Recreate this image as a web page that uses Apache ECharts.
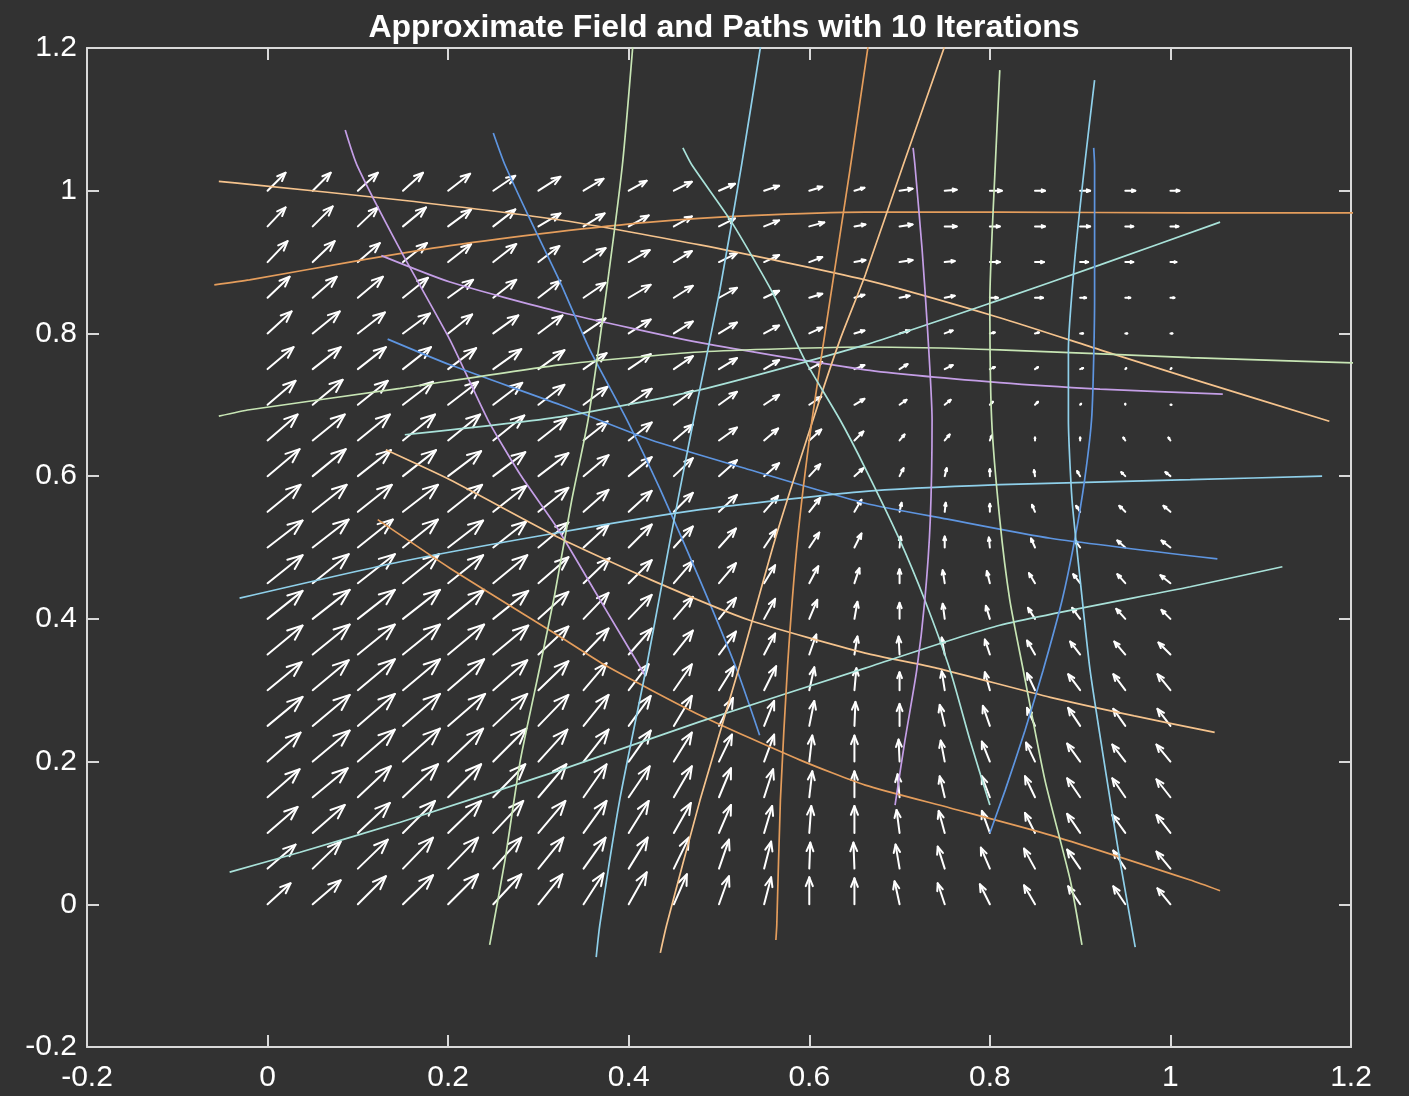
<!DOCTYPE html>
<html>
<head>
<meta charset="utf-8">
<title>Approximate Field and Paths</title>
<script src="https://cdn.jsdelivr.net/npm/echarts@6/dist/echarts.min.js"></script>
<style>
html, body { margin: 0; padding: 0; background: #323232; }
#chart { width: 1409px; height: 1096px; }
</style>
</head>
<body>
<div id="chart"></div>
<script>
// quiver grid
var gridX = [0, 0.05, 0.1, 0.15, 0.2, 0.25, 0.3, 0.35, 0.4, 0.45, 0.5, 0.55, 0.6, 0.65, 0.7, 0.75, 0.8, 0.85, 0.9, 0.95, 1];
var gridY = [0, 0.05, 0.1, 0.15, 0.2, 0.25, 0.3, 0.35, 0.4, 0.45, 0.5, 0.55, 0.6, 0.65, 0.7, 0.75, 0.8, 0.85, 0.9, 0.95, 1];

// field components, one row per gridY value (bottom row first)
var fieldU = [
  [23,28,28,30,30,28,24,20,18,13,10,7,0,0,-5,-7,-10,-11,-12,-12,-13],
  [28,28,30,30,30,28,25,22,19,15,10,7,1,-1,-4,-7,-9,-11,-13,-12,-14],
  [30,32,32,32,33,30,27,23,20,17,12,8,2,0,-3,-6,-8,-10,-13,-13,-14],
  [32,35,33,35,33,32,28,23,21,18,12,9,3,0,-2,-5,-8,-10,-13,-13,-14],
  [33,37,37,37,35,33,29,25,22,18,13,10,3,0,-1,-4,-8,-9,-13,-13,-14],
  [35,37,37,37,37,34,30,25,22,18,14,10,5,1,0,-5,-7,-8,-12,-12,-13],
  [34,36,37,37,36,34,30,23,20,18,15,12,5,2,0,-3,-5,-8,-12,-12,-13],
  [35,37,37,37,36,35,30,25,23,19,17,11,7,3,-1,-3,-5,-8,-10,-11,-12],
  [35,37,37,37,36,35,30,25,23,19,17,11,8,3,0,-2,-4,-7,-8,-9,-9],
  [35,36,37,36,35,34,30,26,23,19,17,11,9,5,0,-2,-3,-6,-7,-8,-10],
  [35,36,35,35,35,33,30,25,23,19,17,12,10,7,1,0,-1,-4,-5,-8,-9],
  [33,34,34,35,34,33,30,25,23,19,18,14,11,7,2,1,0,-3,-4,-6,-7],
  [32,33,33,33,33,32,30,25,23,19,18,15,11,9,4,2,0,-1,-3,-4,-5],
  [30,32,32,32,32,31,28,24,23,19,18,14,12,9,5,5,2,0,0,-2,-2],
  [28,30,30,30,30,29,26,24,23,19,18,15,12,10,7,6,3,3,1,0,1],
  [26,28,28,28,28,28,26,23,22,19,18,15,13,10,8,8,5,3,3,1,1],
  [24,27,27,27,24,25,24,22,22,19,18,15,13,10,10,8,5,4,3,2,2],
  [22,24,25,25,25,23,22,22,22,19,18,15,13,10,10,10,8,8,6,5,4],
  [20,22,22,24,23,23,21,22,21,18,18,15,13,11,13,10,10,9,8,8,6],
  [18,20,20,23,23,22,22,21,20,18,16,15,15,11,13,12,10,10,10,8,8],
  [18,18,20,20,22,22,22,20,18,18,16,15,13,10,13,12,12,10,10,10,9]
];
var fieldV = [
  [21,24,28,29,30,30,30,31,32,30,28,27,27,26,23,21,20,19,18,18,16],
  [24,27,29,31,31,31,31,31,31,31,29,27,26,26,24,22,21,20,19,18,17],
  [26,28,30,32,32,32,32,32,32,30,28,27,27,27,23,22,22,20,19,18,18],
  [28,29,31,33,33,33,33,33,31,31,29,28,26,26,23,21,21,21,19,19,18],
  [29,31,32,33,33,33,32,32,31,29,27,27,26,26,22,21,20,19,18,17,17],
  [29,31,32,32,32,32,31,31,30,30,28,25,25,24,22,21,20,18,18,17,17],
  [28,30,31,31,31,30,29,27,26,26,24,24,23,22,18,19,18,17,16,16,16],
  [29,30,30,30,30,29,28,26,26,24,23,21,20,18,18,17,15,14,13,13,12],
  [28,29,29,29,29,28,27,26,24,22,21,20,19,17,16,15,13,11,11,10,9],
  [28,29,29,29,28,28,26,25,23,22,20,18,17,15,14,13,12,10,9,9,8],
  [27,28,28,28,27,26,25,23,23,21,19,18,15,14,11,11,10,9,7,7,7],
  [27,27,27,27,27,26,24,22,21,19,17,16,14,12,9,9,8,7,6,6,6],
  [27,27,26,26,25,24,23,21,19,18,16,13,12,8,8,8,7,6,5,4,4],
  [26,26,26,26,26,25,22,19,18,16,13,12,11,9,6,6,5,3,3,3,3],
  [24,25,24,23,23,22,20,18,16,14,13,10,8,6,5,5,3,3,1,1,0],
  [22,22,22,22,21,20,19,16,15,13,11,9,7,4,5,4,2,2,1,1,1],
  [22,22,21,20,19,18,18,15,14,12,11,8,6,3,3,3,1,1,0,0,0],
  [21,21,21,20,18,18,17,15,13,12,10,7,4,3,2,2,0,0,0,0,0],
  [21,21,19,19,18,18,16,14,12,11,9,7,5,2,2,1,0,0,0,0,0],
  [19,20,19,19,17,17,13,13,11,10,8,6,4,2,2,0,0,0,0,0,0],
  [18,18,18,18,17,15,14,12,10,9,7,5,4,3,2,1,0,0,0,0,0]
];

// paths
var pathA = [[-0.054,1.013],[-0.020,1.009],[0.147,0.987],[0.324,0.959],[0.479,0.924],[0.662,0.875],[0.811,0.822],[0.922,0.777],[1.022,0.737],[1.176,0.677]];
var pathB = [[-0.059,0.868],[-0.020,0.875],[0.091,0.900],[0.202,0.923],[0.318,0.942],[0.424,0.956],[0.534,0.965],[0.662,0.970],[0.811,0.970],[1.022,0.969],[1.25,0.969]];
var pathC = [[0.086,1.085],[0.099,1.036],[0.147,0.917],[0.202,0.791],[0.244,0.679],[0.280,0.602],[0.321,0.527],[0.368,0.427],[0.418,0.321]];
var pathD = [[0.126,0.909],[0.202,0.872],[0.324,0.830],[0.479,0.787],[0.662,0.749],[0.811,0.731],[0.922,0.722],[1.058,0.715]];
var pathE = [[0.250,1.081],[0.263,1.036],[0.291,0.959],[0.324,0.872],[0.357,0.777],[0.398,0.679],[0.435,0.581],[0.479,0.454],[0.520,0.328],[0.545,0.237]];
var pathF = [[0.133,0.792],[0.202,0.756],[0.324,0.700],[0.424,0.651],[0.534,0.609],[0.662,0.562],[0.756,0.539],[0.867,0.513],[1.052,0.484]];
var pathG = [[-0.054,0.684],[-0.020,0.693],[0.147,0.723],[0.324,0.756],[0.479,0.774],[0.662,0.781],[0.811,0.777],[1.022,0.766],[1.25,0.757]];
var pathH = [[0.152,0.658],[0.324,0.683],[0.479,0.721],[0.662,0.784],[0.811,0.847],[0.922,0.896],[1.055,0.956]];
var pathI = [[-0.031,0.429],[0.147,0.480],[0.318,0.520],[0.479,0.553],[0.656,0.578],[0.811,0.588],[1.022,0.595],[1.168,0.600]];
var pathJ = [[0.131,0.637],[0.202,0.595],[0.324,0.513],[0.424,0.455],[0.534,0.398],[0.662,0.352],[0.741,0.331],[0.867,0.290],[0.960,0.264],[1.049,0.241]];
var pathK = [[0.122,0.539],[0.202,0.471],[0.324,0.375],[0.374,0.335],[0.479,0.265],[0.590,0.202],[0.662,0.167],[0.756,0.135],[0.867,0.097],[1.022,0.034],[1.055,0.019]];
var pathL = [[-0.042,0.045],[0.036,0.073],[0.147,0.115],[0.324,0.188],[0.479,0.256],[0.662,0.331],[0.811,0.391],[1.022,0.445],[1.124,0.473]];
var pathM = [[0.246,-0.057],[0.263,0.062],[0.280,0.202],[0.302,0.335],[0.318,0.434],[0.337,0.567],[0.355,0.679],[0.374,0.847],[0.393,1.036],[0.405,1.21]];
var pathN = [[0.364,-0.074],[0.368,-0.029],[0.390,0.146],[0.420,0.335],[0.446,0.511],[0.473,0.686],[0.501,0.861],[0.525,1.036],[0.547,1.21]];
var pathO = [[0.435,-0.068],[0.442,-0.029],[0.479,0.146],[0.523,0.335],[0.562,0.511],[0.606,0.686],[0.634,0.791],[0.662,0.882],[0.704,1.036],[0.752,1.21]];
var pathP = [[0.563,-0.050],[0.564,-0.029],[0.568,0.146],[0.576,0.335],[0.587,0.511],[0.603,0.679],[0.623,0.847],[0.645,1.029],[0.666,1.21]];
var pathQ = [[0.460,1.060],[0.470,1.036],[0.514,0.956],[0.559,0.858],[0.595,0.763],[0.634,0.679],[0.662,0.611],[0.700,0.511],[0.728,0.426],[0.756,0.328],[0.778,0.230],[0.800,0.139]];
var pathR = [[0.715,1.060],[0.717,1.036],[0.725,0.917],[0.731,0.805],[0.736,0.679],[0.734,0.539],[0.728,0.427],[0.719,0.328],[0.706,0.230],[0.695,0.139]];
var pathS = [[0.811,1.169],[0.806,1.036],[0.800,0.847],[0.802,0.679],[0.811,0.539],[0.822,0.427],[0.837,0.328],[0.861,0.174],[0.889,0.034],[0.902,-0.057]];
var pathT = [[0.915,1.060],[0.916,1.036],[0.916,0.847],[0.913,0.686],[0.905,0.595],[0.894,0.511],[0.880,0.426],[0.859,0.328],[0.839,0.244],[0.817,0.160],[0.800,0.100]];
var pathU = [[0.916,1.155],[0.905,1.036],[0.894,0.903],[0.887,0.777],[0.887,0.679],[0.891,0.567],[0.900,0.455],[0.911,0.328],[0.928,0.188],[0.944,0.062],[0.961,-0.060]];

var paths = [pathA, pathB, pathC, pathD, pathE, pathF, pathG, pathH, pathI, pathJ, pathK, pathL, pathM, pathN, pathO, pathP, pathQ, pathR, pathS, pathT, pathU];
var pathColors = ['#f5c38d', '#e49d5c', '#c49ee6', '#c49ee6', '#5e95e0', '#5e95e0', '#c7e5b4', '#a9e2d9', '#8fd0ea',
                  '#f5c38d', '#e49d5c', '#a9e2d9', '#c7e5b4', '#8fd0ea', '#f5c38d', '#e49d5c', '#a9e2d9', '#c49ee6',
                  '#c7e5b4', '#5e95e0', '#8fd0ea'];

var arrowScaleX = 1.4 / 1264;
var arrowScaleY = 1.4 / 999;

var quiverData = [];
for (var j = 0; j < gridY.length; j++) {
  for (var i = 0; i < gridX.length; i++) {
    quiverData.push([gridX[i], gridY[j], fieldU[j][i], fieldV[j][i]]);
  }
}

var axisColor = '#d9d9d9';
var labelFont = 'Liberation Sans, Helvetica, Arial, sans-serif';

function makeX(pos, showLabel) {
  return {
    type: 'value', position: pos, min: -0.2, max: 1.2, interval: 0.2,
    axisLine: { show: true, onZero: false, lineStyle: { color: axisColor, width: 2 } },
    axisTick: { show: true, inside: true, length: 12, lineStyle: { color: axisColor, width: 2 } },
    axisLabel: { show: showLabel, color: '#ffffff', fontSize: 30, margin: 16, fontFamily: labelFont },
    splitLine: { show: false }
  };
}
function makeY(pos, showLabel) {
  return {
    type: 'value', position: pos, min: -0.2, max: 1.2, interval: 0.2,
    axisLine: { show: true, onZero: false, lineStyle: { color: axisColor, width: 2 } },
    axisTick: { show: true, inside: true, length: 12, lineStyle: { color: axisColor, width: 2 } },
    axisLabel: { show: showLabel, color: '#ffffff', fontSize: 30, margin: 10, fontFamily: labelFont },
    splitLine: { show: false }
  };
}

var series = [{
  type: 'custom',
  z: 2,
  silent: true,
  data: quiverData,
  renderItem: function (params, api) {
    var x = api.value(0), y = api.value(1), u = api.value(2), v = api.value(3);
    var p0 = api.coord([x, y]);
    var p1 = api.coord([x + u * arrowScaleX, y + v * arrowScaleY]);
    var dx = p1[0] - p0[0], dy = p1[1] - p0[1];
    var alpha = 0.33, beta = 0.4;
    var h1 = [p1[0] - alpha * (dx + beta * dy), p1[1] - alpha * (dy - beta * dx)];
    var h2 = [p1[0] - alpha * (dx - beta * dy), p1[1] - alpha * (dy + beta * dx)];
    var st = { stroke: '#ffffff', lineWidth: 2, fill: null, lineCap: 'round', lineJoin: 'round' };
    return {
      type: 'group',
      children: [
        { type: 'polyline', shape: { points: [p0, p1] }, style: st },
        { type: 'polyline', shape: { points: [h1, p1, h2] }, style: st }
      ]
    };
  }
}];

for (var k = 0; k < paths.length; k++) {
  series.push({
    type: 'line',
    z: 3,
    data: paths[k],
    showSymbol: false,
    smooth: 0.2,
    clip: true,
    lineStyle: { color: pathColors[k], width: 1.7 },
    silent: true
  });
}

var chart = echarts.init(document.getElementById('chart'));
chart.setOption({
  backgroundColor: '#323232',
  animation: false,
  title: {
    text: 'Approximate Field and Paths with 10 Iterations',
    left: 719, top: 7, textAlign: 'center',
    textStyle: { color: '#ffffff', fontSize: 32, fontWeight: 'bold', fontFamily: labelFont }
  },
  grid: { left: 87, right: 58, top: 48, bottom: 49 },
  xAxis: [makeX('bottom', true), makeX('top', false)],
  yAxis: [makeY('left', true), makeY('right', false)],
  series: series
});
</script>
</body>
</html>
